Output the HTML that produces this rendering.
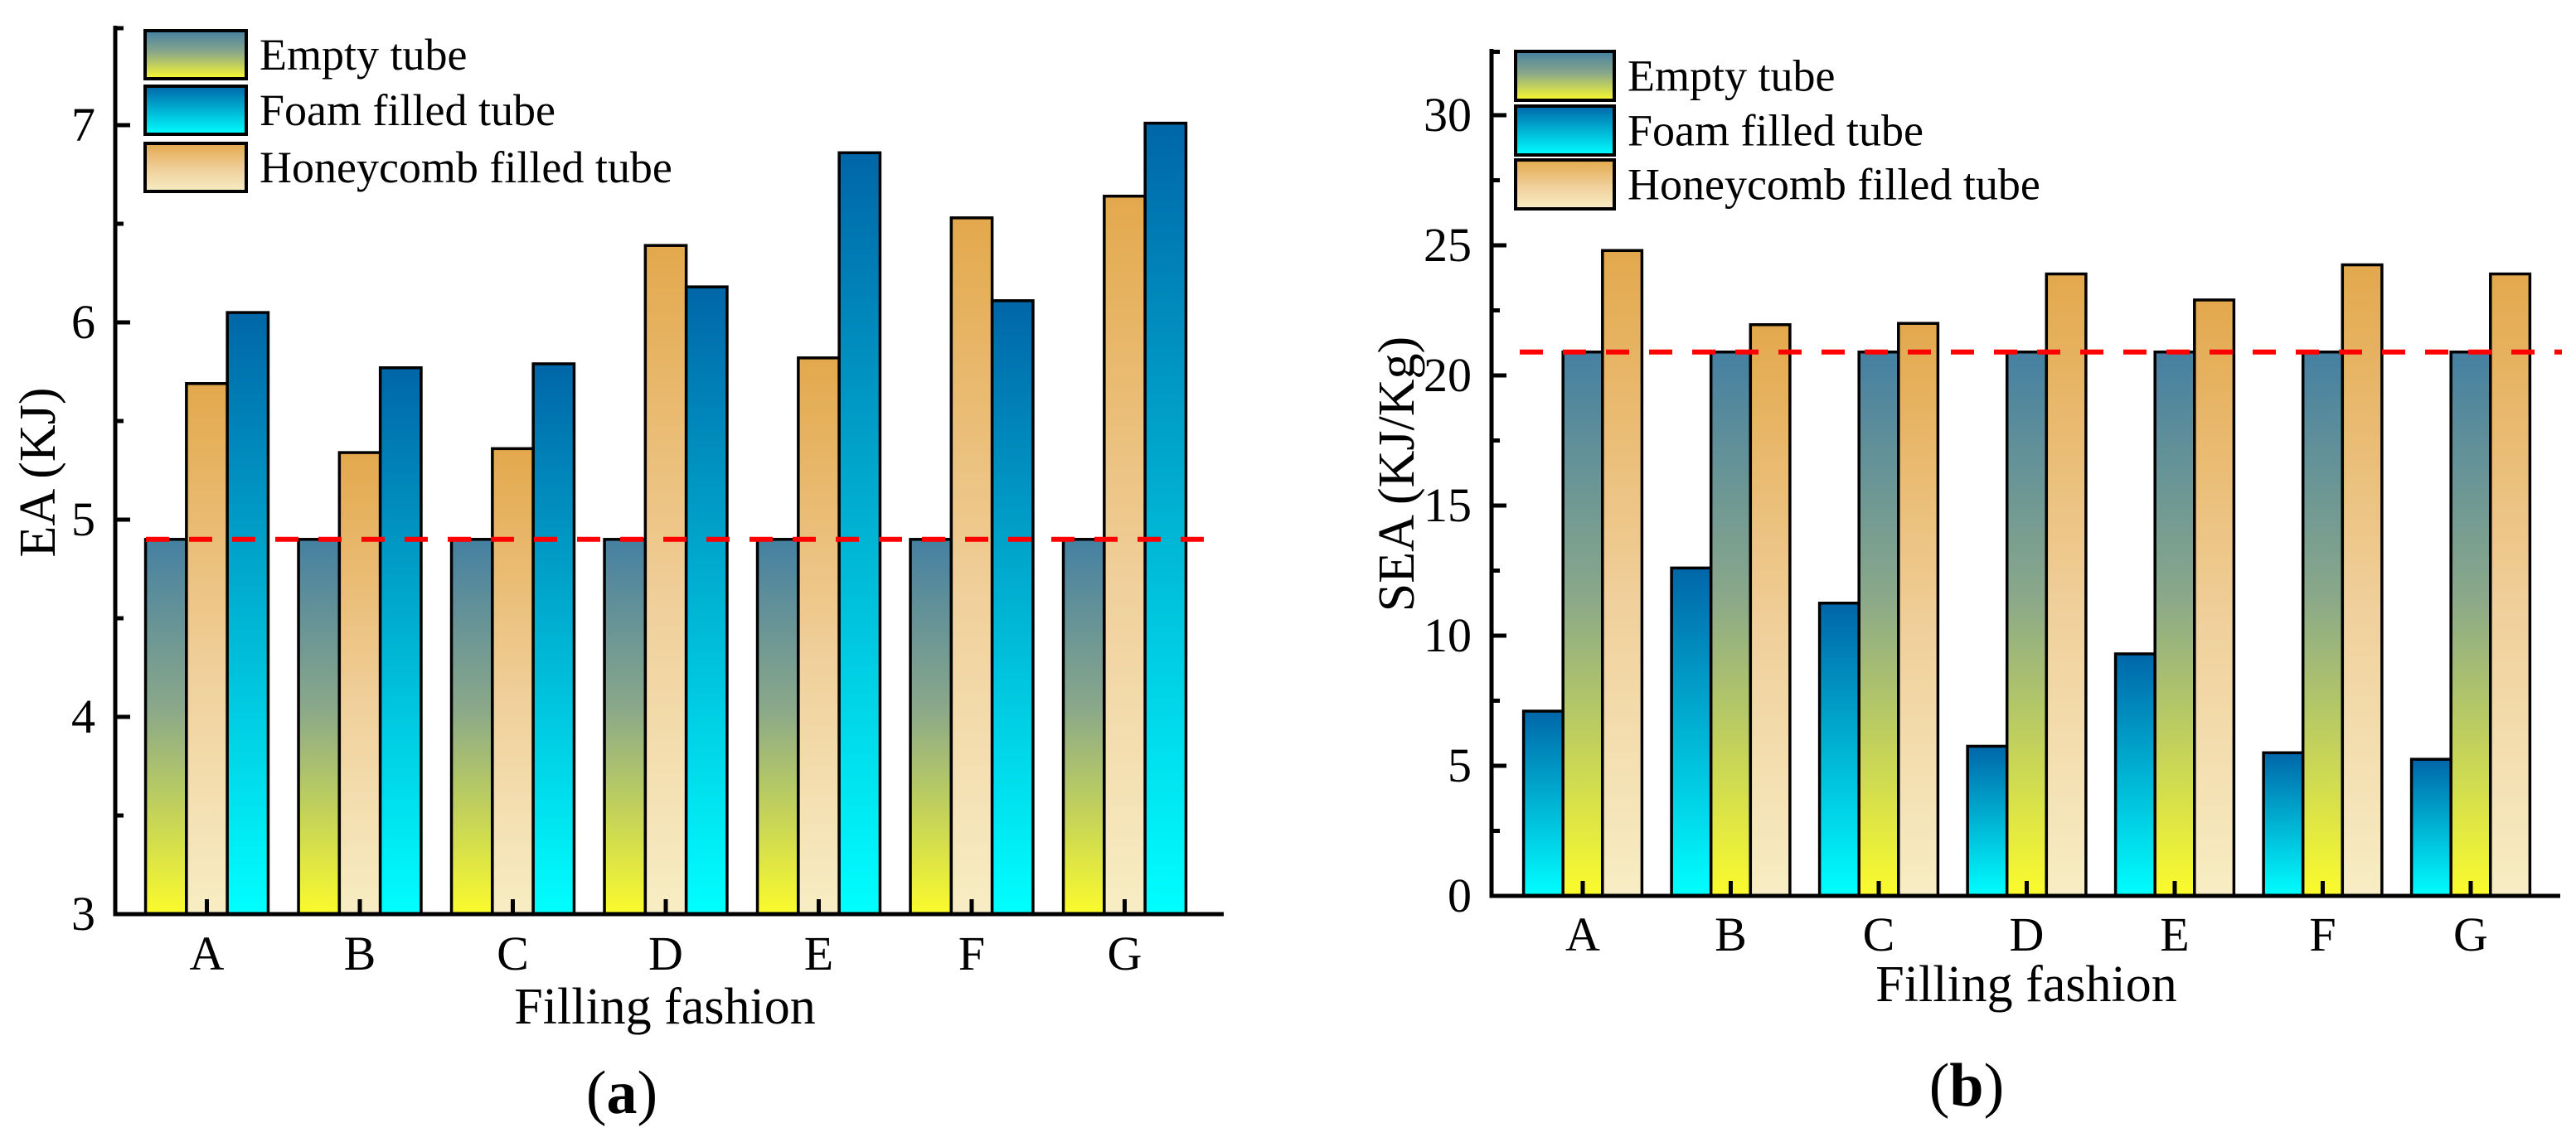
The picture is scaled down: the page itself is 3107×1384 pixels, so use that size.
<!DOCTYPE html>
<html><head><meta charset="utf-8">
<style>
html,body{margin:0;padding:0;background:#fff;}
svg{display:block;font-family:"Liberation Serif","Times New Roman",serif;}
</style></head>
<body>
<svg id="fig" width="3107" height="1384" viewBox="0 0 3107 1384" xmlns="http://www.w3.org/2000/svg">
<defs>
<linearGradient id="gEmpty" x1="0" y1="0" x2="0" y2="1"><stop offset="0" stop-color="#4580a2"/><stop offset="0.45" stop-color="#8aa88a"/><stop offset="1" stop-color="#fbfb2c"/></linearGradient>
<linearGradient id="gFoam" x1="0" y1="0" x2="0" y2="1"><stop offset="0" stop-color="#0066a8"/><stop offset="1" stop-color="#00ffff"/></linearGradient>
<linearGradient id="gHoney" x1="0" y1="0" x2="0" y2="1"><stop offset="0" stop-color="#e3a84c"/><stop offset="0.55" stop-color="#f0d09c"/><stop offset="1" stop-color="#f7edc4"/></linearGradient>
</defs>
<g id="chartA"></g>
<g id="chartB"></g>
</svg>
<script>
const categories = ["A","B","C","D","E","F","G"];
const eaEmpty = [4.9,4.9,4.9,4.9,4.9,4.9,4.9];
const eaHoney = [5.69,5.34,5.36,6.39,5.82,6.53,6.64];
const eaFoam = [6.05,5.77,5.79,6.18,6.86,6.11,7.01];
const eaRef = 4.9;
const eaTicks = [3,4,5,6,7];
const seaFoam = [7.1,12.6,11.25,5.75,9.3,5.5,5.25];
const seaEmpty = [20.9,20.9,20.9,20.9,20.9,20.9,20.9];
const seaHoney = [24.8,21.95,22.0,23.9,22.9,24.25,23.9];
const seaRef = 20.9;
const seaTicks = [0,5,10,15,20,25,30];

const NS="http://www.w3.org/2000/svg";
function mk(parent,tag,attrs,text){const e=document.createElementNS(NS,tag);for(const k in attrs)e.setAttribute(k,attrs[k]);if(text!==undefined)e.textContent=text;parent.appendChild(e);return e;}

function drawChart(g,cfg){
  const y=v=>cfg.y0-(v-cfg.vmin)*cfg.ppu;
  const xc=i=>cfg.cx0+i*cfg.step;
  const bw=cfg.bw;
  cfg.series.forEach((s,si)=>{
    s.vals.forEach((v,i)=>{
      const x=xc(i)+(si-1.5)*bw;
      const r=mk(g,'rect',{x:x,y:y(v),width:bw,height:cfg.y0-y(v),fill:'url(#'+s.grad+')',stroke:'#000','stroke-width':3.5});
      
      
    });
  });
  const d=mk(g,'line',{x1:cfg.dashX1,x2:cfg.dashX2,y1:y(cfg.ref),y2:y(cfg.ref),stroke:'#ff0000','stroke-width':6,'stroke-dasharray':'28 24'});
  
  
  const ax=mk(g,'path',{d:`M${cfg.ax},${cfg.axTop} V${cfg.y0} H${cfg.axRight}`,fill:'none',stroke:'#000','stroke-width':5});
  
  
  cfg.ticks.forEach((t,k)=>{
    mk(g,'line',{x1:cfg.ax,x2:cfg.ax+18,y1:y(t),y2:y(t),stroke:'#000','stroke-width':5});
    const lb=mk(g,'text',{x:cfg.ax-24,y:y(t)+19,'text-anchor':'end','font-size':58},String(t));
    
    
    if(k<cfg.ticks.length-1){const m=(t+cfg.ticks[k+1])/2;mk(g,'line',{x1:cfg.ax,x2:cfg.ax+10,y1:y(m),y2:y(m),stroke:'#000','stroke-width':5});}
  });
  const lastMinor=cfg.ticks[cfg.ticks.length-1]+(cfg.ticks[1]-cfg.ticks[0])/2;
  if(y(lastMinor)>=cfg.axTop-1) mk(g,'line',{x1:cfg.ax,x2:cfg.ax+10,y1:y(lastMinor)+2,y2:y(lastMinor)+2,stroke:'#000','stroke-width':5});
  categories.forEach((c,i)=>{
    mk(g,'line',{x1:xc(i),x2:xc(i),y1:cfg.y0,y2:cfg.y0-18,stroke:'#000','stroke-width':5});
    const lb=mk(g,'text',{x:xc(i),y:cfg.xLabY,'text-anchor':'middle','font-size':58},c);
    
    
  });
  const xt=mk(g,'text',{x:cfg.xTitleX,y:cfg.xTitleY,'text-anchor':'middle','font-size':62},'Filling fashion');
  
  
  const yt=mk(g,'text',{x:0,y:0,'text-anchor':'middle','font-size':62,transform:`translate(${cfg.yTitleX},${cfg.yTitleY}) rotate(-90)`},cfg.yTitle);
  
  
  const cap=mk(g,'text',{x:cfg.capX,y:cfg.capY,'text-anchor':'middle','font-size':74});
  mk(cap,'tspan',{},'(');mk(cap,'tspan',{'font-weight':'bold'},cfg.cap);mk(cap,'tspan',{},')');
  
  
  cfg.legend.forEach((L,k)=>{
    const lg=mk(g,'g',{});
    
    
    const top=cfg.legY[k];
    mk(lg,'rect',{x:cfg.legX,y:top,width:cfg.legW,height:cfg.legH,fill:'url(#'+L.grad+')',stroke:'#000','stroke-width':4});
    mk(lg,'text',{x:cfg.legX+cfg.legW+16,y:top+cfg.legH/2+18,'font-size':54},L.label);
  });
}

drawChart(document.getElementById('chartA'),{
  vmin:3,y0:1103,ppu:238,cx0:249.5,step:184.5,bw:49.3,ax:139,axTop:31,axRight:1476,
  series:[{key:'empty',vals:eaEmpty,grad:'gEmpty'},{key:'honey',vals:eaHoney,grad:'gHoney'},{key:'foam',vals:eaFoam,grad:'gFoam'}],
  ref:eaRef,dashX1:176,dashX2:1476,ticks:eaTicks,xLabY:1170,xTitleX:802,xTitleY:1235,
  yTitle:'EA (KJ)',yTitleX:66,yTitleY:570,capX:750,capY:1343,cap:'a',
  legend:[{grad:'gEmpty',label:'Empty tube'},{grad:'gFoam',label:'Foam filled tube'},{grad:'gHoney',label:'Honeycomb filled tube'}],
  legX:175,legY:[37,104,173],legW:122,legH:58
});
drawChart(document.getElementById('chartB'),{
  vmin:0,y0:1081,ppu:31.4,cx0:1909,step:178.5,bw:47.6,ax:1799,axTop:59,axRight:3088,
  series:[{key:'foam',vals:seaFoam,grad:'gFoam'},{key:'empty',vals:seaEmpty,grad:'gEmpty'},{key:'honey',vals:seaHoney,grad:'gHoney'}],
  ref:seaRef,dashX1:1833,dashX2:3090,ticks:seaTicks,xLabY:1147,xTitleX:2444,xTitleY:1208,
  yTitle:'SEA (KJ/Kg)',yTitleX:1705,yTitleY:572,capX:2372,capY:1334,cap:'b',
  legend:[{grad:'gEmpty',label:'Empty tube'},{grad:'gFoam',label:'Foam filled tube'},{grad:'gHoney',label:'Honeycomb filled tube'}],
  legX:1828,legY:[62,128,193],legW:119,legH:59
});
</script>
</body></html>
